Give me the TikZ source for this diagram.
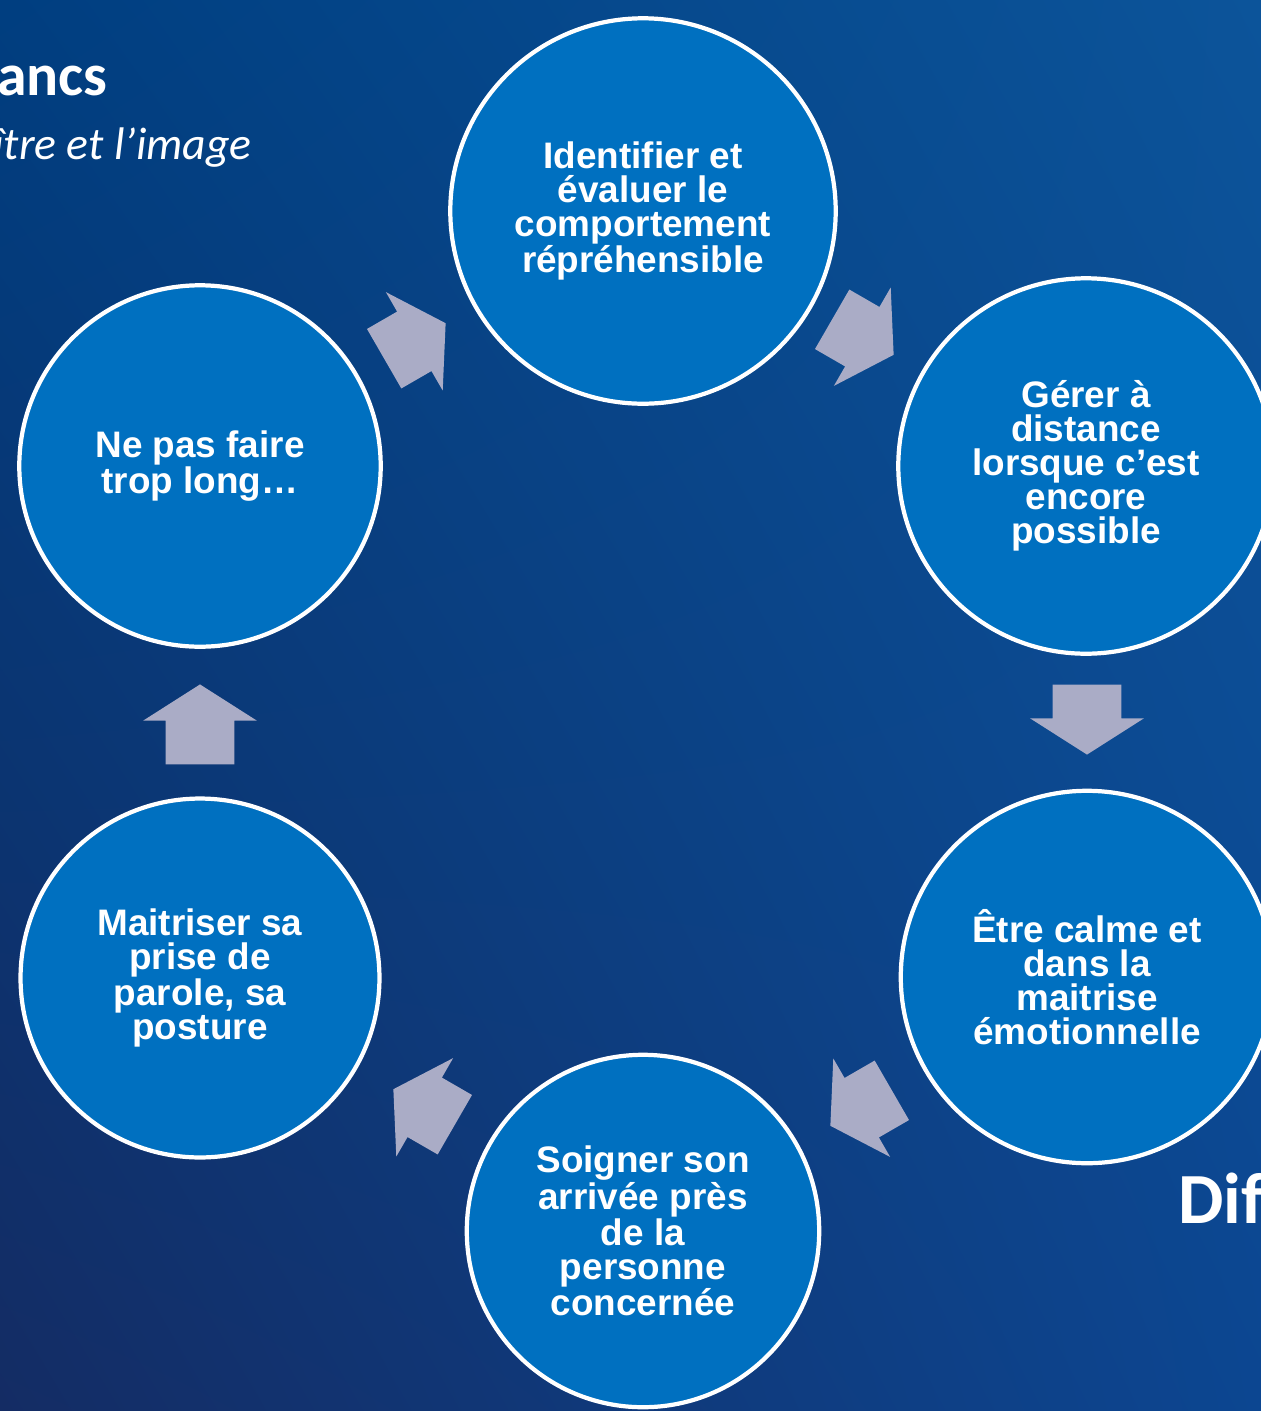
\documentclass[tikz,border=0pt]{standalone}
\usepackage{fontspec}
\setmainfont{Liberation Sans}
\newfontfamily\calibri{Carlito}
\usetikzlibrary{shapes.arrows,shadings}
\definecolor{stagefill}{RGB}{0,112,192}
\definecolor{arrowfill}{RGB}{170,172,198}
\definecolor{bglowleft}{RGB}{20,44,100}
\definecolor{bgupleft}{RGB}{0,62,128}
\definecolor{bgupright}{RGB}{12,84,154}
\definecolor{bglowright}{RGB}{12,70,145}
\begin{document}
\begin{tikzpicture}[x=0.02cm,y=-0.02cm]
        \tikzstyle{stage}=[circle,draw=white,line width=2.4pt,fill=stagefill,text=white,align=center,inner sep=0pt,font=\bfseries\fontsize{21}{19.3}\selectfont]
        \tikzstyle{cyclearrow}=[single arrow,fill=arrowfill,inner xsep=0pt,inner ysep=0.68cm,anchor=tip,minimum height=1.42cm,single arrow head extend=0.45cm,single arrow tip angle=115]
        \tikzstyle{edgetext}=[inner sep=0pt,text=white]
        \useasboundingbox (0,0) rectangle (1261,1411);
        \clip (0,0) rectangle (1261,1411);
        \shade[lower left=bglowleft,upper left=bgupleft,upper right=bgupright,lower right=bglowright] (0,0) rectangle (1261,1411);
        \node[stage,minimum size=7.71cm] (identifier) at (643,211) {Identifier et\\évaluer le\\comportement\\répréhensible};
        \node[stage,minimum size=7.51cm] (gerer) at (1086,466) {Gérer à\\distance\\lorsque c’est\\encore\\possible};
        \node[stage,minimum size=7.45cm] (calme) at (1087,977) {Être calme et\\dans la\\maitrise\\émotionnelle};
        \node[stage,minimum size=7.05cm] (soigner) at (643,1231) {Soigner son\\arrivée près\\de la\\personne\\concernée};
        \node[stage,minimum size=7.18cm] (maitriser) at (200,978) {Maitriser sa\\prise de\\parole, sa\\posture};
        \node[stage,minimum size=7.23cm] (long) at (200,466) {Ne pas faire\\trop long…};
        \node[cyclearrow,rotate=30] (longid) at (446,323) {};
        \node[cyclearrow,rotate=-30] (idgerer) at (894,355) {};
        \node[cyclearrow,rotate=-90,minimum height=1.4cm] (gerercalme) at (1087,755) {};
        \node[cyclearrow,rotate=210] (calmesoigner) at (830,1126) {};
        \node[cyclearrow,rotate=150] (soignermaitriser) at (393,1089) {};
        \node[cyclearrow,rotate=90,minimum height=1.6cm] (maitriserlong) at (200,684) {};
        \node[edgetext,anchor=base east,font=\calibri\bfseries\fontsize{34}{40}\selectfont] (titre) at (108,95) {ancs};
        \node[edgetext,anchor=base east,font=\calibri\itshape\fontsize{26}{30}\selectfont] (soustitre) at (252,159) {ître et l’image};
        \node[edgetext,anchor=base west,font=\calibri\bfseries\fontsize{41}{48}\selectfont] (dif) at (1178,1223) {Dif};
    \end{tikzpicture}
\end{document}
